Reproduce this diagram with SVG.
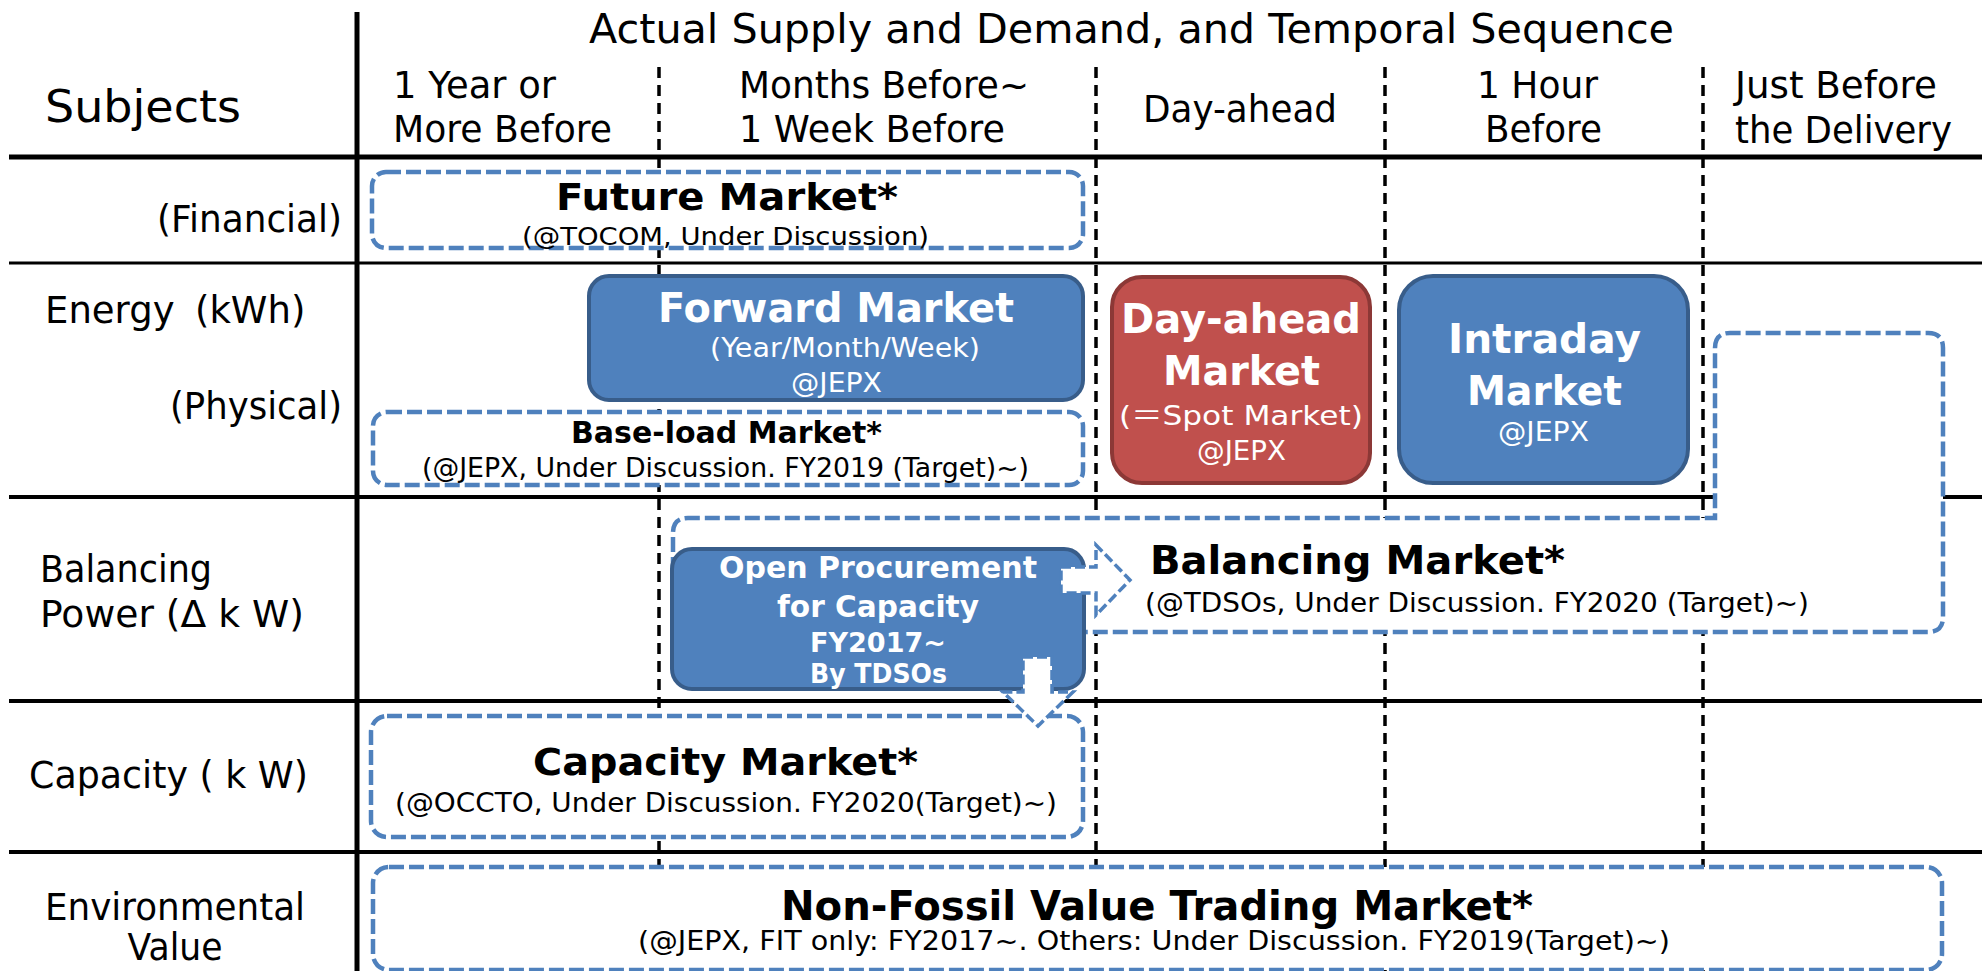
<svg xmlns="http://www.w3.org/2000/svg" width="1982" height="971" viewBox="0 0 1982 971">
  <style>
    .bg { fill: #ffffff; }
    .rule { stroke: #000000; fill: none; }
    .col { stroke: #000000; stroke-width: 3.5; stroke-dasharray: 11 7; fill: none; }
    .plan { fill: #ffffff; stroke: #4F81BD; stroke-width: 4.5; stroke-dasharray: 15 5; }
    .arrow { fill: #ffffff; stroke: #4F81BD; stroke-width: 3.5; stroke-dasharray: 10 4; }
    .blue { fill: #4F81BD; stroke: #385D8A; stroke-width: 4; }
    .red { fill: #C0504D; stroke: #8C3836; stroke-width: 4; }
    text { font-family: "DejaVu Sans", "Noto Sans CJK JP", sans-serif; fill: #000000; }
    .h { font-size: 37px; }
    .sub { font-size: 26px; }
    .b { font-weight: bold; }
    .w { fill: #ffffff; }
  </style>

  <rect class="bg" x="0" y="0" width="1982" height="971"/>

  <!-- table grid -->
  <g id="grid">
    <line class="col" x1="659" y1="67" x2="659" y2="971"/>
    <line class="col" x1="1096" y1="67" x2="1096" y2="971"/>
    <line class="col" x1="1385" y1="67" x2="1385" y2="971"/>
    <line class="col" x1="1703" y1="67" x2="1703" y2="971"/>
    <line class="rule" x1="9" y1="157" x2="1982" y2="157" stroke-width="5"/>
    <line class="rule" x1="9" y1="263" x2="1982" y2="263" stroke-width="3"/>
    <line class="rule" x1="9" y1="497" x2="1982" y2="497" stroke-width="4"/>
    <line class="rule" x1="9" y1="701" x2="1982" y2="701" stroke-width="4"/>
    <line class="rule" x1="9" y1="852" x2="1982" y2="852" stroke-width="4"/>
    <line class="rule" x1="357" y1="12" x2="357" y2="971" stroke-width="5"/>
  </g>

  <!-- column and row headings -->
  <g id="headings">
    <text x="589" y="43" font-size="41" textLength="1085" lengthAdjust="spacingAndGlyphs">Actual Supply and Demand, and Temporal Sequence</text>
    <text x="45" y="122" font-size="45" textLength="196" lengthAdjust="spacingAndGlyphs">Subjects</text>
    <text class="h" x="393" y="98" textLength="163" lengthAdjust="spacingAndGlyphs">1 Year or</text>
    <text class="h" x="393" y="142" textLength="219" lengthAdjust="spacingAndGlyphs">More Before</text>
    <text class="h" x="739" y="98" textLength="290" lengthAdjust="spacingAndGlyphs">Months Before~</text>
    <text class="h" x="739" y="142" textLength="266" lengthAdjust="spacingAndGlyphs">1 Week Before</text>
    <text class="h" x="1143" y="122" textLength="194" lengthAdjust="spacingAndGlyphs">Day-ahead</text>
    <text class="h" x="1477" y="98" textLength="121" lengthAdjust="spacingAndGlyphs">1 Hour</text>
    <text class="h" x="1485" y="142" textLength="117" lengthAdjust="spacingAndGlyphs">Before</text>
    <text class="h" x="1735" y="98" textLength="202" lengthAdjust="spacingAndGlyphs">Just Before</text>
    <text class="h" x="1735" y="143" textLength="217" lengthAdjust="spacingAndGlyphs">the Delivery</text>

    <text class="h" x="157" y="232" textLength="185" lengthAdjust="spacingAndGlyphs">(Financial)</text>
    <text class="h" y="323"><tspan x="45">Energy</tspan><tspan x="195">(kWh)</tspan></text>
    <text class="h" x="170" y="419" textLength="172" lengthAdjust="spacingAndGlyphs">(Physical)</text>
    <text class="h" x="40" y="582" textLength="172" lengthAdjust="spacingAndGlyphs">Balancing</text>
    <text class="h" x="40" y="627" textLength="264" lengthAdjust="spacingAndGlyphs">Power (Δ k W)</text>
    <text class="h" x="29" y="788" textLength="279" lengthAdjust="spacingAndGlyphs">Capacity ( k W)</text>
    <text class="h" x="175" y="920" text-anchor="middle" textLength="260" lengthAdjust="spacingAndGlyphs">Environmental</text>
    <text class="h" x="175" y="960" text-anchor="middle" textLength="95" lengthAdjust="spacingAndGlyphs">Value</text>
  </g>

  <!-- markets -->
  <g id="future-market">
    <rect class="plan" x="372" y="172" width="711" height="76" rx="14"/>
    <text class="b" x="556" y="210" font-size="38" textLength="342" lengthAdjust="spacingAndGlyphs">Future Market*</text>
    <text x="522" y="245" font-size="25" textLength="407" lengthAdjust="spacingAndGlyphs">(@TOCOM, Under Discussion)</text>
  </g>

  <g id="forward-market">
    <rect class="blue" x="589" y="276" width="494" height="124" rx="20"/>
    <text class="b w" x="658" y="322" font-size="40" textLength="356" lengthAdjust="spacingAndGlyphs">Forward Market</text>
    <text class="sub w" x="710" y="357" textLength="270" lengthAdjust="spacingAndGlyphs">(Year/Month/Week)</text>
    <text class="sub w" x="791" y="392" textLength="91" lengthAdjust="spacingAndGlyphs">@JEPX</text>
  </g>

  <g id="baseload-market">
    <rect class="plan" x="373" y="412" width="710" height="73" rx="14"/>
    <text class="b" x="571" y="443" font-size="30" textLength="311" lengthAdjust="spacingAndGlyphs">Base-load Market*</text>
    <text class="sub" x="422" y="477" textLength="607" lengthAdjust="spacingAndGlyphs">(@JEPX, Under Discussion. FY2019 (Target)~)</text>
  </g>

  <g id="dayahead-market">
    <rect class="red" x="1112" y="277" width="258" height="206" rx="30"/>
    <text class="b w" x="1121" y="333" font-size="40" textLength="240" lengthAdjust="spacingAndGlyphs">Day-ahead</text>
    <text class="b w" x="1163" y="385" font-size="40" textLength="157" lengthAdjust="spacingAndGlyphs">Market</text>
    <text class="w" x="1119" y="425" font-size="27" textLength="244" lengthAdjust="spacingAndGlyphs">(＝Spot Market)</text>
    <text class="sub w" x="1197" y="460" textLength="89" lengthAdjust="spacingAndGlyphs">@JEPX</text>
  </g>

  <g id="intraday-market">
    <rect class="blue" x="1399" y="276" width="289" height="207" rx="34"/>
    <text class="b w" x="1448" y="353" font-size="41" textLength="193" lengthAdjust="spacingAndGlyphs">Intraday</text>
    <text class="b w" x="1467" y="405" font-size="41" textLength="155" lengthAdjust="spacingAndGlyphs">Market</text>
    <text class="sub w" x="1498" y="441" textLength="91" lengthAdjust="spacingAndGlyphs">@JEPX</text>
  </g>

  <g id="balancing-market">
    <path class="plan" d="M 673 632 L 673 533 Q 673 518 688 518 L 1715 518 L 1715 348 Q 1715 333 1730 333 L 1928 333 Q 1943 333 1943 348 L 1943 617 Q 1943 632 1928 632 Z"/>
    <text class="b" x="1150" y="574" font-size="39" textLength="415" lengthAdjust="spacingAndGlyphs">Balancing Market*</text>
    <text class="sub" x="1145" y="612" textLength="664" lengthAdjust="spacingAndGlyphs">(@TDSOs, Under Discussion. FY2020 (Target)~)</text>
  </g>

  <g id="capacity-market">
    <rect class="plan" x="371" y="716" width="712" height="121" rx="16"/>
    <text class="b" x="533" y="775" font-size="38" textLength="385" lengthAdjust="spacingAndGlyphs">Capacity Market*</text>
    <text class="sub" x="395" y="812" textLength="662" lengthAdjust="spacingAndGlyphs">(@OCCTO, Under Discussion. FY2020(Target)~)</text>
  </g>

  <g id="open-procurement">
    <rect class="blue" x="672" y="549" width="412" height="140" rx="20"/>
    <text class="b w" x="719" y="578" font-size="30" textLength="318" lengthAdjust="spacingAndGlyphs">Open Procurement</text>
    <text class="b w" x="777" y="617" font-size="30" textLength="202" lengthAdjust="spacingAndGlyphs">for Capacity</text>
    <text class="b w" x="810" y="652" font-size="26" textLength="136" lengthAdjust="spacingAndGlyphs">FY2017~</text>
    <text class="b w" x="810" y="683" font-size="26" textLength="137" lengthAdjust="spacingAndGlyphs">By TDSOs</text>
  </g>

  <g id="nonfossil-market">
    <rect class="plan" x="373" y="867" width="1569" height="103" rx="16"/>
    <text class="b" x="781" y="920" font-size="40" textLength="752" lengthAdjust="spacingAndGlyphs">Non-Fossil Value Trading Market*</text>
    <text class="sub" x="638" y="950" textLength="1032" lengthAdjust="spacingAndGlyphs">(@JEPX, FIT only: FY2017~.  Others: Under Discussion. FY2019(Target)~)</text>
  </g>

  <!-- block arrows from open procurement -->
  <g id="connectors">
    <polygon class="arrow" points="1061,567 1096,567 1096,545 1130,580 1096,615 1096,593 1061,593"/>
    <polygon class="arrow" points="1023,657 1052,657 1052,692 1073,692 1038,726 1003,692 1023,692"/>
  </g>
</svg>
